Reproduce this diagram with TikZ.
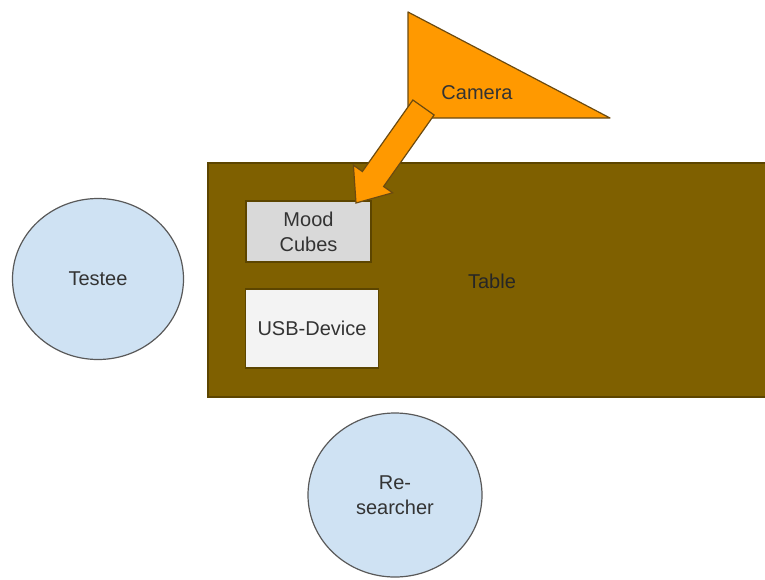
\documentclass[tikz,border=0pt]{standalone}
\usepackage{fontspec}
\setmainfont{Liberation Sans}
\definecolor{tablebrown}{HTML}{7F6000}
\definecolor{tableedge}{HTML}{5C4500}
\definecolor{camorange}{HTML}{FF9900}
\definecolor{camedge}{HTML}{6B4A10}
\definecolor{personblue}{HTML}{CFE2F3}
\definecolor{personedge}{HTML}{595959}
\definecolor{cubegray}{HTML}{D9D9D9}
\definecolor{usbwhite}{HTML}{F3F3F3}
\definecolor{txt}{HTML}{333333}
\tikzset{
  x=1pt,y=-1pt,
  lbl/.style={font=\fontsize{20}{25}\selectfont, text=txt, align=center, inner sep=0pt},
  person/.style={ellipse, draw=personedge, line width=1.2pt, fill=personblue, inner sep=0pt, lbl},
  box/.style={draw=tableedge, line width=1.2pt, inner sep=0pt, lbl},
}
\usetikzlibrary{shapes.geometric}
\begin{document}
\begin{tikzpicture}
\useasboundingbox (0,0) rectangle (765,579);
% table
\filldraw[fill=tablebrown, draw=tableedge, line width=1.2pt] (208,163) rectangle (768,397);
\node[lbl, text=black!85] (table) at (492,281) {Table};
% mood cubes and usb
\node[box, fill=cubegray, minimum width=125pt, minimum height=61pt] (cubes) at (308.5,231.5) {Mood\\Cubes};
\node[box, fill=usbwhite, minimum width=133pt, minimum height=79pt] (usb) at (312,328.5) {USB-Device};
% people
\node[person, minimum width=171pt, minimum height=161pt] (testee) at (98,279) {Testee};
\node[person, minimum width=174pt, minimum height=164pt] (researcher) at (395,495) {Re-\\searcher};
% camera
\filldraw[fill=camorange, draw=camedge, line width=1.2pt, line join=round] (408,12) -- (610,118) -- (408,118) -- cycle;
\node[lbl] (camera) at (477,93) {Camera};
% block arrow
\filldraw[fill=camorange, draw=camedge, line width=1.2pt, line join=miter]
  (412.9,100) -- (434.1,115) -- (383.6,186.5) -- (392.6,192.8) -- (356,203) -- (353.4,165.2) -- (362.4,171.5) -- cycle;
\end{tikzpicture}
\end{document}
